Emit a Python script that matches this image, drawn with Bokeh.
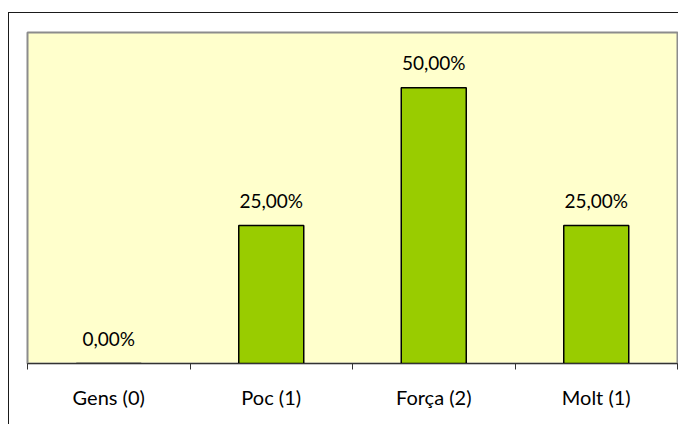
from bokeh.plotting import figure
from bokeh.models import ColumnDataSource, FixedTicker, InlineStyleSheet
from bokeh.core.properties import value
from bokeh.embed import file_html
from bokeh.resources import INLINE

categories = ["Gens (0)", "Poc (1)", "Força (2)", "Molt (1)"]
values = [0, 25, 50, 25]
labels = [f"{v:.2f}".replace(".", ",") + "%" for v in values]

xs = [i + 0.5 for i in range(len(categories))]
source = ColumnDataSource(dict(x=xs, top=values, label=labels))

FONT = "Lato"

frame_css = InlineStyleSheet(css="""
:host { position: relative; overflow: hidden; }
:host::after {
  content: '';
  position: absolute;
  left: 8px; top: 12px;
  right: -20px; bottom: -20px;
  border-left: 1.5px solid #1a1a1a;
  border-top: 1.5px solid #1a1a1a;
  box-sizing: border-box;
  pointer-events: none;
  z-index: 10;
}
""")

p = figure(width=678, height=424, output_backend="svg", toolbar_location=None,
           x_range=(0, len(categories)), y_range=(0, 60),
           y_axis_location=None,
           min_border_left=27, min_border_right=1, min_border_top=32, min_border_bottom=61)
p.stylesheets = [frame_css]

p.background_fill_color = "#FFFFCC"
p.border_fill_color = "white"
p.outline_line_color = "#8c8c8c"
p.outline_line_width = 2
p.xgrid.visible = False
p.ygrid.visible = False

p.vbar(x="x", top="top", width=0.4, bottom=0, source=source,
       fill_color="#99CC00", line_color="black", line_width=1.5)

p.text(x="x", y="top", text="label", source=source,
       text_align="center", text_baseline="alphabetic", y_offset=-25,
       text_font=value(FONT), text_font_size="19px", text_color="black")

ax = p.xaxis[0]
ax.ticker = FixedTicker(ticks=xs, minor_ticks=list(range(len(categories) + 1)))
ax.major_label_overrides = {x: c for x, c in zip(xs, categories)}
ax.major_tick_out = 0
ax.major_tick_in = 0
ax.minor_tick_out = 6
ax.minor_tick_in = 0
ax.minor_tick_line_color = "#333333"
ax.axis_line_color = "#333333"
ax.axis_line_width = 1
ax.major_label_standoff = 15
ax.major_label_text_font = FONT
ax.major_label_text_font_size = "20px"
ax.major_label_text_color = "black"

open("out.html", "w").write(file_html(p, INLINE))
